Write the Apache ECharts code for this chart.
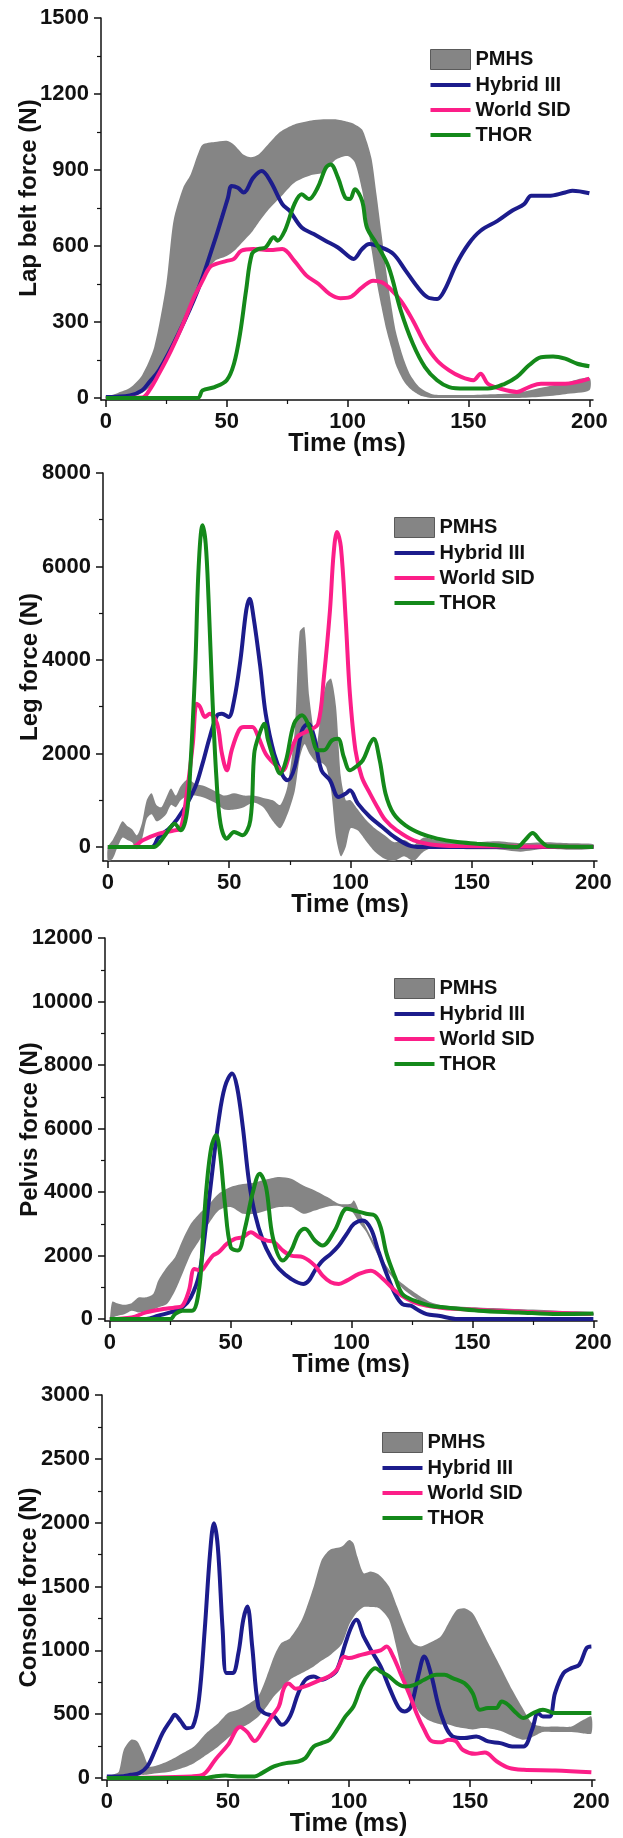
<!DOCTYPE html>
<html><head><meta charset="utf-8">
<script src="https://cdn.jsdelivr.net/npm/echarts@6/dist/echarts.min.js"></script>
<style>html,body{margin:0;padding:0;background:#fff}#c{width:623px;height:1838px}</style>
</head><body><div id="c"></div><script>
// ---------- shared ----------
const timeTicks = [0, 50, 100, 150, 200];
const timeMinor = [25, 75, 125, 175];
const legendNames = ['PMHS', 'Hybrid III', 'World SID', 'THOR'];

// ---------- Panel 1: Lap belt force ----------
const lapTicks = [0, 300, 600, 900, 1200, 1500];
const lapMinor = [150, 450, 750, 1050, 1350];
const lapBandT = [0,5,10,15,20,25,28,32,35,38,40,45,50,53,57,60,63,67,72,78,85,90,95,100,103,106,108,110,112,114,116,118,120,123,126,130,135,140,150,160,170,180,190,200];
const lapBandLo = [0,0,5,20,60,150,210,290,360,430,470,540,560,580,620,650,690,740,790,850,880,890,940,955,930,820,700,580,460,360,270,200,130,70,35,10,0,0,0,0,0,5,15,30];
const lapBandHi = [5,20,40,90,200,450,700,830,880,960,1000,1010,1015,1000,960,950,960,1000,1050,1080,1095,1100,1100,1090,1080,1060,1010,940,800,650,500,370,260,160,90,40,15,12,12,15,20,40,60,80];
const lapHybT = [0,10,15,18,22,30,38,45,48,50.5,52,54.6,57,61,64.5,68,73,76,81,86,91,96,101,102.5,106,109,114,119,124,129,133,137,140,145,150,155,162,168,173,176,183,190,193,200];
const lapHybV = [4,10,30,63,109,253,424,620,712,790,837,830,811,870,896,857,765,739,673,647,620,594,555,549,588,608,594,568,503,437,398,391,424,529,608,660,699,739,765,798,798,811,818,808];
const lapWsT = [0,15,18,22,27,32,36.5,40,43,45.6,50,53,56,61,68,73,78,83,88,92.5,97,101,106,110.6,114,117,122,127,132,137,142,147,152,155,158,163,170,175,180,190,200];
const lapWsV = [0,2,30,96,188,293,398,463,516,529,541,549,581,588,584,588,541,483,450,411,394,398,437,463,457,437,384,306,214,148,109,83,70,96,56,37,24,43,56,56,76];
const lapThT = [0,38,40,45,50,53,55.5,58,60.4,63,66,69.5,71,74,78,81,84,87.6,91,93,96,99,101,103,106,108,112,117,122,127,132,137,142,148.5,158,165,170,175,180,185,190,195,200];
const lapThV = [0,0,30,43,70,135,253,424,568,588,594,634,621,660,765,804,785,830,909,922,870,791,785,824,778,673,608,516,345,214,122,70,43,37,37,56,83,129,161,164,155,135,125];

// ---------- Panel 2: Leg force ----------
const legTicks = [0, 2000, 4000, 6000, 8000];
const legMinor = [1000, 3000, 5000, 7000];
const legBandT = [0,2,4,6,8,10,12,14,16,18,20,22,24,26,28,30,33,36,40,44,48,52,56,60,64,68,71,74,77,79,81,83,86,88,90,92,94,96,98,100,103,106,110,114,118,122,126,130,135,140,150,160,170,180,190,200];
const legBandLo = [-300,-250,0,200,150,100,-50,150,600,700,550,600,700,900,850,1000,1100,1100,1050,950,800,800,850,950,850,550,400,700,1200,1900,2200,2000,1800,1800,1700,1200,200,-200,0,400,350,150,-100,-250,-300,-200,-300,-100,0,-20,-50,-50,-100,-40,-60,-30];
const legBandHi = [0,150,350,550,450,380,250,500,1000,1150,900,850,1050,1250,1100,1300,1450,1350,1300,1200,1100,1150,1100,1100,1050,1000,900,1300,2500,4600,4700,3200,2200,3000,3500,3600,3000,1500,1000,1000,800,600,400,250,100,150,50,200,150,150,100,120,80,100,80,60];
const legHybT = [0,18,21,26,31,36,39,42,45,47,49.7,52,54.6,57,58.4,60,62.8,65,68.5,72,74,77,80,82.5,85,88,91.5,95,98,99.7,103,108,113,118,124,129,200];
const legHybV = [0,0,214,428,784,1283,1782,2353,2816,2852,2780,3137,3993,5062,5312,4920,3850,2852,1996,1533,1426,1711,2496,2638,2353,1640,1426,1070,1141,1212,927,642,428,214,36,0,0];
const legWsT = [0,10,14.4,21,27.5,30,32.5,35,36.6,38,40,42,45,47,49,51,54,56,59.5,62,65,68.5,72,75,78,83,86.6,89,91.5,93,94.4,96,98,99.7,102,104.6,108,111,114.4,119,126,136,144,200];
const legWsV = [0,0,143,285,356,400,1141,2210,3066,2995,2780,2852,2638,1996,1640,2068,2496,2567,2567,2353,1996,1782,1640,1996,2353,2496,2638,3636,5062,6274,6738,6417,4848,3280,2068,1497,1141,856,570,356,143,36,20,0];
const legThT = [0,19,21,24,27.5,30,32.5,34,36,37.4,39,40.3,41.5,43,44.7,46.4,49,52,55.4,58.7,60.3,62,64.4,66,68.5,71,73.4,76.7,80,83,86.6,89,92.3,94.8,97.2,99.7,102,105,108,109.5,112,114.4,117.7,122.6,129,135.7,144,152,160,168.5,171.8,175,178,181.6,200];
const legThV = [0,0,71,285,499,356,713,1711,3850,5989,6880,6488,5276,3280,1497,499,178,321,250,570,1996,2353,2638,2281,1853,1569,1853,2638,2816,2567,2068,2068,2281,2317,1925,1640,1711,1853,2210,2317,1853,1141,713,463,285,178,107,71,36,0,143,300,143,14,0];

// ---------- Panel 3: Pelvis force ----------
const pelTicks = [0, 2000, 4000, 6000, 8000, 10000, 12000];
const pelMinor = [1000, 3000, 5000, 7000, 9000, 11000];
const pelBandT = [0,1,3,6,9,12,15,18,20,23.6,27,30,33.5,37,40,45,50,55,60,65,70,75,80,84.8,90,94.7,99.7,101,103,106,109.6,113,118,123,128,133,139,152.5,169,185.6,200];
const pelBandLo = [0,50,100,150,263,210,250,300,368,474,895,1421,2053,2474,2895,3421,3526,3316,3316,3421,3526,3526,3316,3421,3540,3560,3400,3300,3053,2750,2200,1700,1211,842,579,420,330,263,158,120,105];
const pelBandHi = [0,550,500,450,500,684,684,800,1211,1632,1947,2474,3000,3316,3526,3947,4158,4250,4300,4400,4474,4421,4210,4053,3842,3631,3631,3737,3421,2895,2368,1842,1316,1000,737,526,421,368,316,263,210];
const pelHybT = [0,15,20,25,30,33.5,37,40,42.6,45,47.6,50.6,52.6,55,57.5,60,63.3,66.6,70,75,80,82.3,84.8,88,91.4,94.7,98,101,104.6,108,111,114.5,118,121,124.5,128,131,136,144,200];
const pelHybV = [0,0,105,210,368,684,1421,3105,4789,6263,7316,7737,7316,6052,4368,3316,2474,1947,1579,1263,1105,1211,1526,1842,2053,2316,2684,3000,3105,2842,2158,1421,789,474,421,263,158,105,0,0];
const pelWsT = [0,9,15,22,27,30,32.7,35,37.7,40,42.6,45,48.4,51.7,55,58.3,61.7,65,68,71.6,75,80,84.8,88,91.4,94.7,98,103,108,113,118,123,128,136,144,161,177,199];
const pelWsV = [0,53,210,316,368,421,895,1579,1526,1737,2000,2105,2368,2526,2579,2737,2579,2474,2421,2158,2000,1947,1684,1368,1158,1105,1211,1421,1526,1263,895,632,474,368,316,263,210,158];
const pelThT = [0,25,27,30,34,37,38.5,40,42,44,45.6,47.6,50,53,56,59,62,64.6,67.4,71.6,75,78,80.7,84.8,88,93,98,101,106,109.6,112,114.5,118,121,126,132.7,139,152.5,169,185.6,200];
const pelThV = [0,0,158,263,263,1000,2579,4158,5421,5789,5210,3631,2263,2158,2895,3947,4579,4158,2579,1842,2158,2684,2842,2474,2316,2789,3474,3421,3316,3263,2895,2053,1316,789,579,421,368,263,210,158,179];

// ---------- Panel 4: Console force ----------
const conTicks = [0, 500, 1000, 1500, 2000, 2500, 3000];
const conMinor = [250, 750, 1250, 1750, 2250, 2750];
const conBandT = [0,3,5,7,10,12.6,15,17.5,21.6,26.5,31.4,36,41,46,50,54,59,62.5,66,69,72,75.6,80.5,85.4,88.7,92,97,100,101.8,103.4,106,109,112.4,116.5,119.8,123,126.4,129.6,133,137.8,141,144.4,147.6,151,154,157.4,162.4,167.3,172,175.5,180,185,191.8,196.7,200];
const conBandLo = [0,0,10,30,30,30,25,30,39,52,80,117,180,248,313,378,430,480,560,640,700,770,822,874,920,960,1050,1200,1260,1300,1340,1340,1330,1239,1000,750,600,500,450,420,420,400,390,380,390,390,370,330,300,320,360,360,360,350,350];
const conBandHi = [10,30,52,222,300,287,196,91,104,143,196,248,352,430,509,535,587,639,796,952,1057,1096,1239,1500,1709,1787,1813,1865,1839,1735,1604,1617,1591,1500,1343,1187,1057,1030,1057,1109,1213,1317,1330,1291,1187,1057,874,691,535,430,404,404,404,456,483];
const conHybT = [0,5,10,13.4,16.7,20,23,26.5,28,30.6,33,35.5,38,40.4,42.6,44.2,45.8,47.8,49.4,51.9,54.3,56.3,58,60,62.5,65,69,72.3,75.6,79,82,85.4,88.7,92,95,98.5,101,103,106,109,113,117,120.6,123,125.5,128.8,131,133.7,137.8,142.7,147.6,152.5,157.4,162.4,167.3,172,175.5,178,180,182.8,185,188.5,191.8,195,198,200];
const conHybV = [13,13,26,39,91,222,352,456,496,443,391,404,613,1161,1761,1996,1813,1161,822,822,978,1239,1343,1030,561,509,483,417,483,665,770,796,770,796,848,1057,1187,1239,1109,1004,874,691,548,522,561,822,952,822,509,326,313,326,287,274,248,248,378,509,483,483,665,822,861,887,1017,1030];
const conWsT = [0,35,40,45,50,55,58,61,65,68,71,73,75,78,82,87,92,95,98,100,104,108,113,115.5,118,121,125,128,131,134,138,141,144,147,152,156,161,166,172,185,200];
const conWsV = [0,13,30,150,260,400,360,290,390,480,560,700,740,700,720,760,800,850,950,940,960,980,1000,1030,960,830,650,500,380,290,280,300,290,220,190,200,130,80,65,60,45];
const conThT = [0,40,44.5,49,54,61,64,69,74,79,82,85.4,88.7,92,95,98.5,101.8,105,108.3,110.8,113,116.5,119.8,123,127,131,136,139.4,142.7,147.6,151,154,157.4,160.7,163,165.6,169,172,176,180,185,191.8,200];
const conThV = [0,0,13,20,13,13,39,91,117,130,157,248,274,300,378,483,561,717,822,861,835,796,743,717,730,770,809,809,783,743,665,535,548,548,600,574,509,470,509,535,509,509,509];

// ---------- styles ----------
const FONT = '"Liberation Sans", Arial, sans-serif';
const INK = '#111';
const COL = { band: '#858585', hyb: '#1c1c8c', ws: '#fc1e88', th: '#14891a' };
const LINE_ICON = 'path://M0,0H40V4H0Z';

const panels = [
  { yName: 'Lap belt force (N)', ymin: -8, ymax: 1500, ticks: lapTicks, minor: lapMinor,
    grid: { left: 101, top: 18, width: 492, height: 382 }, legend: { left: 430, top: 49 }, nameGap: 60, namePad: [0, 0, 0, 22],
    band: [lapBandT, lapBandLo, lapBandHi], hyb: [lapHybT, lapHybV], ws: [lapWsT, lapWsV], th: [lapThT, lapThV] },
  { yName: 'Leg force (N)', ymin: -300, ymax: 8000, ticks: legTicks, minor: legMinor,
    grid: { left: 103, top: 473, width: 494, height: 388 }, legend: { left: 394, top: 517 }, nameGap: 61, namePad: 0,
    band: [legBandT, legBandLo, legBandHi], hyb: [legHybT, legHybV], ws: [legWsT, legWsV], th: [legThT, legThV] },
  { yName: 'Pelvis force (N)', ymin: -60, ymax: 12000, ticks: pelTicks, minor: pelMinor,
    grid: { left: 105, top: 938, width: 492, height: 383 }, legend: { left: 394, top: 978 }, nameGap: 63, namePad: 0,
    band: [pelBandT, pelBandLo, pelBandHi], hyb: [pelHybT, pelHybV], ws: [pelWsT, pelWsV], th: [pelThT, pelThV] },
  { yName: 'Console force (N)', ymin: -15, ymax: 3000, ticks: conTicks, minor: conMinor,
    grid: { left: 102, top: 1395, width: 493, height: 386 }, legend: { left: 382, top: 1432 }, nameGap: 61, namePad: 0,
    band: [conBandT, conBandLo, conBandHi], hyb: [conHybT, conHybV], ws: [conWsT, conWsV], th: [conThT, conThV] }
];

const SMOOTH = 0.35;
function zip(t, v) { return t.map((x, i) => [x, v[i]]); }

function lineSeries(name, color, tv, idx) {
  return { type: 'line', name, xAxisIndex: idx, yAxisIndex: idx, data: zip(tv[0], tv[1]),
    symbol: 'none', smooth: SMOOTH, lineStyle: { color, width: 4 }, itemStyle: { color },
    z: 3, silent: true, animation: false };
}
// PMHS corridor: polygon between lower and upper bound, positioned by the axes (api.coord)
function bandSeries(b, idx) {
  const [t, lo, hi] = b;
  const data = t.map((x, i) => [x, lo[i], hi[i]]);
  return { type: 'custom', name: 'PMHS', xAxisIndex: idx, yAxisIndex: idx, data,
    encode: { x: 0, y: [1, 2] }, clip: true, silent: true, z: 1, animation: false,
    itemStyle: { color: COL.band },
    renderItem: function (params, api) {
      if (params.dataIndex !== 0) return null;
      const up = data.map(d => api.coord([d[0], d[2]]));
      const dn = data.map(d => api.coord([d[0], d[1]])).reverse();
      return { type: 'polygon', shape: { points: up.concat(dn), smooth: 0.25 },
        style: { fill: COL.band, stroke: null } };
    } };
}

const grid = [], xAxis = [], yAxis = [], series = [], legend = [];
const N = panels.length;
const tickLab = { fontSize: 22, fontWeight: 'bold', fontFamily: FONT, color: INK };
panels.forEach((p, i) => {
  grid.push(Object.assign({ containLabel: false }, p.grid));
  xAxis[i] = { type: 'value', gridIndex: i, min: -2, max: 201.5, position: 'bottom',
    name: 'Time (ms)', nameLocation: 'middle', nameGap: 32, nameMoveOverlap: false,
    nameTextStyle: { fontSize: 25, fontWeight: 'bold', fontFamily: FONT, color: INK },
    axisLine: { show: true, onZero: false, lineStyle: { color: INK, width: 1.5 } },
    axisTick: { show: true, length: 7, customValues: timeTicks, lineStyle: { color: INK, width: 1.5 } },
    axisLabel: Object.assign({ customValues: timeTicks, margin: 11, formatter: v => String(v) }, tickLab),
    splitLine: { show: false } };
  xAxis[N + i] = { type: 'value', gridIndex: i, min: -2, max: 201.5, position: 'bottom',
    axisLine: { show: false, onZero: false },
    axisTick: { show: true, length: 4, customValues: timeMinor, lineStyle: { color: INK, width: 1.2 } },
    axisLabel: { show: false }, splitLine: { show: false } };
  yAxis[i] = { type: 'value', gridIndex: i, min: p.ymin, max: p.ymax, position: 'left',
    name: p.yName, nameLocation: 'middle', nameGap: p.nameGap, nameMoveOverlap: false,
    nameTextStyle: { fontSize: 24, fontWeight: 'bold', fontFamily: FONT, color: INK, padding: p.namePad },
    axisLine: { show: true, onZero: false, lineStyle: { color: INK, width: 1.5 } },
    axisTick: { show: true, length: 7, customValues: p.ticks, lineStyle: { color: INK, width: 1.5 } },
    axisLabel: Object.assign({ customValues: p.ticks, margin: 12, formatter: v => String(v) }, tickLab),
    splitLine: { show: false } };
  yAxis[N + i] = { type: 'value', gridIndex: i, min: p.ymin, max: p.ymax, position: 'left',
    axisLine: { show: false, onZero: false },
    axisTick: { show: true, length: 4, customValues: p.minor, lineStyle: { color: INK, width: 1.2 } },
    axisLabel: { show: false }, splitLine: { show: false } };
  series.push(bandSeries(p.band, i));
  series.push(lineSeries('Hybrid III', COL.hyb, p.hyb, i));
  series.push(lineSeries('World SID', COL.ws, p.ws, i));
  series.push(lineSeries('THOR', COL.th, p.th, i));
  legend.push({ orient: 'vertical', left: p.legend.left, top: p.legend.top, padding: 0,
    itemWidth: 40, itemHeight: 20, itemGap: 5, selectedMode: false, symbolKeepAspect: true,
    textStyle: { fontSize: 20, fontWeight: 'bold', fontFamily: FONT, color: INK },
    data: [
      { name: legendNames[0], icon: 'rect', itemStyle: { color: COL.band, borderColor: '#5a5a5a', borderWidth: 1 } },
      { name: legendNames[1], icon: LINE_ICON, itemStyle: { color: COL.hyb } },
      { name: legendNames[2], icon: LINE_ICON, itemStyle: { color: COL.ws } },
      { name: legendNames[3], icon: LINE_ICON, itemStyle: { color: COL.th } }
    ] });
});

const chart = echarts.init(document.getElementById('c'), null, { renderer: 'canvas' });
chart.setOption({ backgroundColor: '#fff', animation: false, grid, xAxis, yAxis, series, legend });
</script></body></html>
